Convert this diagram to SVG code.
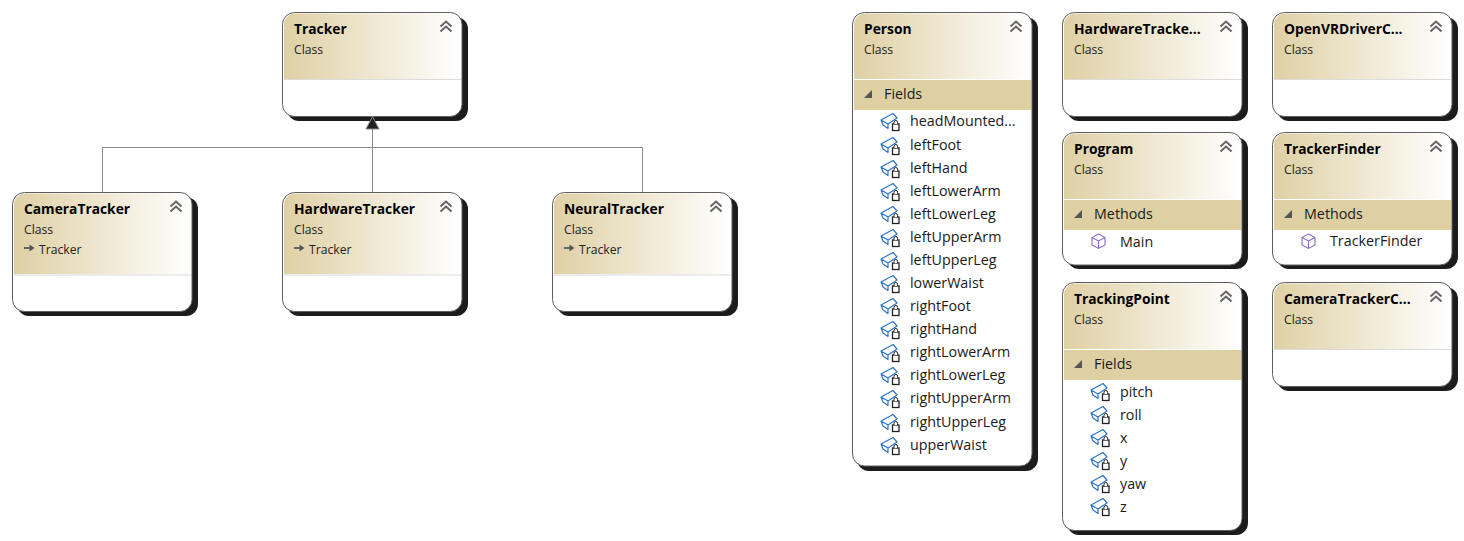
<svg xmlns="http://www.w3.org/2000/svg" width="1464" height="541" viewBox="0 0 1464 541">
<style>
text{font-family:"Open Sans","Noto Sans","Liberation Sans",sans-serif;fill:#111}
.t{font-size:13.8px;font-weight:700;fill:#000}
.s{font-size:12.2px;fill:#222}
.i{font-size:14.3px;fill:#1a1a1a}
.sh{fill:#1c1c1c}
.bd{fill:#fff}
.ol{fill:none;stroke:#5e5e5e;stroke-width:1}
.sep{stroke:#dcdcdc;stroke-width:1}
.sep2{stroke:#ececec;stroke-width:2}
.sec{fill:#dfd0a4}
.cn{fill:none;stroke:#8a8a8a;stroke-width:1}
.chev{fill:none;stroke:#666;stroke-width:2}
.tri{fill:#555}
</style>
<defs>
<linearGradient id="g" x1="0" y1="0" x2="1" y2="0"><stop offset="0" stop-color="#dfd0a4"/><stop offset="1" stop-color="#fff"/></linearGradient>
<g id="chevs"><path class="chev" d="M0.500 6.500 6 1.500 11.500 6.500M0.500 11.500 6 6.500 11.500 11.500"/></g>
<g id="field"><path d="M1 7 13 0.500 17 5 8 11ZM1 7 3 12 8 15.500V11" fill="#fff" stroke="#2d74c8" stroke-width="1.200" stroke-linejoin="round"/><rect x="12.500" y="11" width="6.500" height="6.500" fill="#fff" stroke="#222" stroke-width="1.300"/><path d="M14 11V9.300a1.800 1.800 0 0 1 3.600 0V11" fill="#fff" stroke="#222"/></g>
<g id="method"><path d="M7.500 1 14 4.500V12L7.500 15.500 1 12V4.500ZM1 4.500 7.500 8 14 4.500M7.500 8V15.500" fill="#fff" stroke="#8d68c6" stroke-width="1.100"/></g>
<g id="inh"><path d="M0 4H6" stroke="#666" stroke-width="2" fill="none"/><path d="M5.500 0.500 10.500 4 5.500 7.500Z" fill="#555"/></g>
<g id="tw"><path class="tri" d="M8 0V8H0Z"/></g>
</defs>

<g id="tracker"><rect class="sh" x="287" y="17" width="181" height="104" rx="12"/><rect class="bd" x="282.500" y="12.500" width="179.500" height="104" rx="12"/><path d="M284 79V25A11.500 11.500 0 0 1 295 13.500H450A11.500 11.500 0 0 1 461.500 25V79Z" fill="url(#g)"/><path class="sep" d="M284 79.500H461.500"/><rect class="ol" x="282.500" y="12.500" width="179.500" height="104" rx="12"/><text class="t" x="294" y="34">Tracker</text><text class="s" x="294" y="54">Class</text><use href="#chevs" x="440" y="20"/></g>

<g id="cameraTracker"><rect class="sh" x="17" y="197" width="181" height="119" rx="12"/><rect class="bd" x="12.500" y="192.500" width="179.500" height="119" rx="12"/><path d="M14 274V205A11.500 11.500 0 0 1 25 193.500H180A11.500 11.500 0 0 1 191.500 205V274Z" fill="url(#g)"/><path class="sep2" d="M14 275H191.500"/><rect class="ol" x="12.500" y="192.500" width="179.500" height="119" rx="12"/><text class="t" x="24" y="214">CameraTracker</text><text class="s" x="24" y="234">Class</text><use href="#inh" x="24" y="244"/><text class="s" x="39" y="254">Tracker</text><use href="#chevs" x="170" y="200"/></g>

<g id="hardwareTracker"><rect class="sh" x="287" y="197" width="181" height="119" rx="12"/><rect class="bd" x="282.500" y="192.500" width="179.500" height="119" rx="12"/><path d="M284 274V205A11.500 11.500 0 0 1 295 193.500H450A11.500 11.500 0 0 1 461.500 205V274Z" fill="url(#g)"/><path class="sep2" d="M284 275H461.500"/><rect class="ol" x="282.500" y="192.500" width="179.500" height="119" rx="12"/><text class="t" x="294" y="214">HardwareTracker</text><text class="s" x="294" y="234">Class</text><use href="#inh" x="294" y="244"/><text class="s" x="309" y="254">Tracker</text><use href="#chevs" x="440" y="200"/></g>

<g id="neuralTracker"><rect class="sh" x="557" y="197" width="181" height="119" rx="12"/><rect class="bd" x="552.500" y="192.500" width="179.500" height="119" rx="12"/><path d="M554 274V205A11.500 11.500 0 0 1 565 193.500H720A11.500 11.500 0 0 1 731.500 205V274Z" fill="url(#g)"/><path class="sep2" d="M554 275H731.500"/><rect class="ol" x="552.500" y="192.500" width="179.500" height="119" rx="12"/><text class="t" x="564" y="214">NeuralTracker</text><text class="s" x="564" y="234">Class</text><use href="#inh" x="564" y="244"/><text class="s" x="579" y="254">Tracker</text><use href="#chevs" x="710" y="200"/></g>

<g id="person"><rect class="sh" x="857" y="17" width="181" height="454" rx="12"/><rect class="bd" x="852.500" y="12.500" width="179.500" height="453.500" rx="12"/><path d="M854 79V25A11.500 11.500 0 0 1 865 13.500H1020A11.500 11.500 0 0 1 1031.500 25V79Z" fill="url(#g)"/><rect class="sec" x="854" y="80" width="177.500" height="30"/><rect class="ol" x="852.500" y="12.500" width="179.500" height="453.500" rx="12"/><text class="t" x="864" y="34">Person</text><text class="s" x="864" y="54">Class</text><use href="#chevs" x="1010" y="20"/><use href="#tw" x="864" y="90"/><text class="i" x="884" y="99">Fields</text>
<use href="#field" x="880" y="113"/><text class="i" x="910" y="126">headMounted...</text>
<use href="#field" x="880" y="137"/><text class="i" x="910" y="150">leftFoot</text>
<use href="#field" x="880" y="160"/><text class="i" x="910" y="173">leftHand</text>
<use href="#field" x="880" y="183"/><text class="i" x="910" y="196">leftLowerArm</text>
<use href="#field" x="880" y="206"/><text class="i" x="910" y="219">leftLowerLeg</text>
<use href="#field" x="880" y="229"/><text class="i" x="910" y="242">leftUpperArm</text>
<use href="#field" x="880" y="252"/><text class="i" x="910" y="265">leftUpperLeg</text>
<use href="#field" x="880" y="275"/><text class="i" x="910" y="288">lowerWaist</text>
<use href="#field" x="880" y="298"/><text class="i" x="910" y="311">rightFoot</text>
<use href="#field" x="880" y="321"/><text class="i" x="910" y="334">rightHand</text>
<use href="#field" x="880" y="344"/><text class="i" x="910" y="357">rightLowerArm</text>
<use href="#field" x="880" y="367"/><text class="i" x="910" y="380">rightLowerLeg</text>
<use href="#field" x="880" y="390"/><text class="i" x="910" y="403">rightUpperArm</text>
<use href="#field" x="880" y="414"/><text class="i" x="910" y="427">rightUpperLeg</text>
<use href="#field" x="880" y="437"/><text class="i" x="910" y="450">upperWaist</text></g>

<g id="hardwareTrackerC"><rect class="sh" x="1067" y="17" width="181" height="104" rx="12"/><rect class="bd" x="1062.500" y="12.500" width="179.500" height="104" rx="12"/><path d="M1064 79V25A11.500 11.500 0 0 1 1075 13.500H1230A11.500 11.500 0 0 1 1241.500 25V79Z" fill="url(#g)"/><path class="sep" d="M1064 79.500H1241.500"/><rect class="ol" x="1062.500" y="12.500" width="179.500" height="104" rx="12"/><text class="t" x="1074" y="34">HardwareTracke...</text><text class="s" x="1074" y="54">Class</text><use href="#chevs" x="1220" y="20"/></g>

<g id="openVRDriverC"><rect class="sh" x="1277" y="17" width="181" height="104" rx="12"/><rect class="bd" x="1272.500" y="12.500" width="179.500" height="104" rx="12"/><path d="M1274 79V25A11.500 11.500 0 0 1 1285 13.500H1440A11.500 11.500 0 0 1 1451.500 25V79Z" fill="url(#g)"/><path class="sep" d="M1274 79.500H1451.500"/><rect class="ol" x="1272.500" y="12.500" width="179.500" height="104" rx="12"/><text class="t" x="1284" y="34">OpenVRDriverC...</text><text class="s" x="1284" y="54">Class</text><use href="#chevs" x="1430" y="20"/></g>

<g id="program"><rect class="sh" x="1067" y="137" width="181" height="132" rx="12"/><rect class="bd" x="1062.500" y="132.500" width="179.500" height="132.500" rx="12"/><path d="M1064 199V145A11.500 11.500 0 0 1 1075 133.500H1230A11.500 11.500 0 0 1 1241.500 145V199Z" fill="url(#g)"/><rect class="sec" x="1064" y="200" width="177.500" height="30"/><rect class="ol" x="1062.500" y="132.500" width="179.500" height="132.500" rx="12"/><text class="t" x="1074" y="154">Program</text><text class="s" x="1074" y="174">Class</text><use href="#chevs" x="1220" y="140"/><use href="#tw" x="1074" y="210"/><text class="i" x="1094" y="219">Methods</text><use href="#method" x="1091" y="233"/><text class="i" x="1120" y="247">Main</text></g>

<g id="trackerFinder"><rect class="sh" x="1277" y="137" width="181" height="132" rx="12"/><rect class="bd" x="1272.500" y="132.500" width="179.500" height="132.500" rx="12"/><path d="M1274 199V145A11.500 11.500 0 0 1 1285 133.500H1440A11.500 11.500 0 0 1 1451.500 145V199Z" fill="url(#g)"/><rect class="sec" x="1274" y="200" width="177.500" height="30"/><rect class="ol" x="1272.500" y="132.500" width="179.500" height="132.500" rx="12"/><text class="t" x="1284" y="154">TrackerFinder</text><text class="s" x="1284" y="174">Class</text><use href="#chevs" x="1430" y="140"/><use href="#tw" x="1284" y="210"/><text class="i" x="1304" y="219">Methods</text><use href="#method" x="1301" y="233"/><text class="i" x="1330" y="246">TrackerFinder</text></g>

<g id="trackingPoint"><rect class="sh" x="1067" y="287" width="181" height="248" rx="12"/><rect class="bd" x="1062.500" y="282.500" width="179.500" height="248" rx="12"/><path d="M1064 349V295A11.500 11.500 0 0 1 1075 283.500H1230A11.500 11.500 0 0 1 1241.500 295V349Z" fill="url(#g)"/><rect class="sec" x="1064" y="350" width="177.500" height="30"/><rect class="ol" x="1062.500" y="282.500" width="179.500" height="248" rx="12"/><text class="t" x="1074" y="304">TrackingPoint</text><text class="s" x="1074" y="324">Class</text><use href="#chevs" x="1220" y="290"/><use href="#tw" x="1074" y="360"/><text class="i" x="1094" y="369">Fields</text>
<use href="#field" x="1090" y="383"/><text class="i" x="1120" y="397">pitch</text>
<use href="#field" x="1090" y="406"/><text class="i" x="1120" y="420">roll</text>
<use href="#field" x="1090" y="429"/><text class="i" x="1120" y="443">x</text>
<use href="#field" x="1090" y="452"/><text class="i" x="1120" y="466">y</text>
<use href="#field" x="1090" y="475"/><text class="i" x="1120" y="489">yaw</text>
<use href="#field" x="1090" y="498"/><text class="i" x="1120" y="512">z</text></g>

<g id="cameraTrackerC"><rect class="sh" x="1277" y="287" width="181" height="104" rx="12"/><rect class="bd" x="1272.500" y="282.500" width="179.500" height="104" rx="12"/><path d="M1274 349V295A11.500 11.500 0 0 1 1285 283.500H1440A11.500 11.500 0 0 1 1451.500 295V349Z" fill="url(#g)"/><path class="sep" d="M1274 349.500H1451.500"/><rect class="ol" x="1272.500" y="282.500" width="179.500" height="104" rx="12"/><text class="t" x="1284" y="304">CameraTrackerC...</text><text class="s" x="1284" y="324">Class</text><use href="#chevs" x="1430" y="290"/></g>

<g id="connectors">
<path class="cn" d="M372.500 192V128M102.500 192V147.500H642.500V192"/>
<path d="M372.500 116.500 379 129H366Z" fill="#222" stroke="#888"/>
</g>
</svg>
